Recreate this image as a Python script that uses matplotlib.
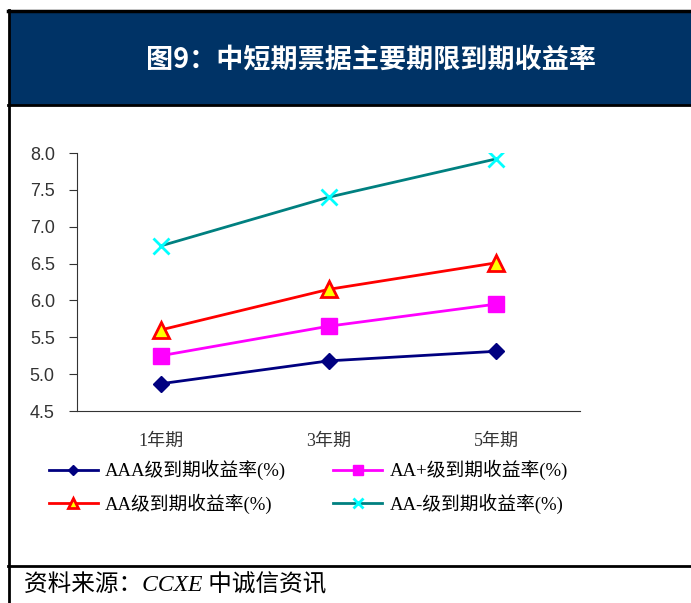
import matplotlib.pyplot as plt
from matplotlib.patches import Rectangle
from matplotlib.lines import Line2D

plt.rcParams['font.family'] = ['Liberation Serif', 'Noto Sans CJK SC', 'DejaVu Sans']

periods = ["1年期", "3年期", "5年期"]
aaa = [4.87, 5.18, 5.31]
aa_plus = [5.25, 5.65, 5.95]
aa = [5.60, 6.15, 6.51]
aa_minus = [6.74, 7.40, 7.92]

W, H = 691, 603
fig = plt.figure(figsize=(W / 100, H / 100), dpi=100)

def fx(px):
    return px / W

def fy(py):
    return 1 - py / H

# header banner and frame
fig.add_artist(Rectangle((fx(9), fy(105)), 1 - fx(9), fy(11) - fy(105),
                         transform=fig.transFigure, facecolor="#003366",
                         edgecolor="none"))
fig.add_artist(Line2D([fx(8), 1], [fy(11), fy(11)], color="black", lw=2.5,
                      transform=fig.transFigure))
fig.add_artist(Line2D([fx(8), 1], [fy(105), fy(105)], color="black", lw=2,
                      transform=fig.transFigure))
fig.add_artist(Line2D([fx(9), fx(9)], [fy(10), 0], color="black", lw=2,
                      transform=fig.transFigure))
fig.add_artist(Line2D([fx(8), 1], [fy(566), fy(566)], color="black", lw=2,
                      transform=fig.transFigure))

fig.text(fx(371), fy(60), "图9：中短期票据主要期限到期收益率", color="white",
         fontsize=19.5, fontweight="bold", ha="center", va="center",
         family=['Noto Sans CJK SC'])
fig.text(fx(24), fy(585), "资料来源：CCXE 中诚信资讯", fontsize=17,
         style="italic", ha="left", va="center",
         family=['Liberation Serif', 'Noto Sans CJK SC'])

ax = fig.add_axes([fx(77), fy(411), fx(580) - fx(77), fy(153) - fy(411)])
x = range(len(periods))
l_aaa, = ax.plot(x, aaa, color="#000080", lw=2, marker="D", ms=8,
                 markerfacecolor="#000080", markeredgecolor="#000080",
                 label="AAA级到期收益率(%)")
l_aap, = ax.plot(x, aa_plus, color="#FF00FF", lw=2, marker="s", ms=11,
                 markerfacecolor="#FF00FF", markeredgecolor="#FF00FF",
                 label="AA+级到期收益率(%)")
l_aa, = ax.plot(x, aa, color="#FF0000", lw=2, marker="^", ms=11,
                markerfacecolor="#FFFF00", markeredgecolor="#FF0000", mew=2,
                label="AA级到期收益率(%)")
l_aam, = ax.plot(x, aa_minus, color="#008080", lw=2, marker="x", ms=11,
                 markeredgecolor="#00FFFF", mew=2,
                 label="AA-级到期收益率(%)")

ax.set_xlim(-0.5, 2.5)
ax.set_ylim(4.5, 8.0)
ax.set_yticks([4.5, 5.0, 5.5, 6.0, 6.5, 7.0, 7.5, 8.0])
ax.set_yticklabels([f"{v:.1f}" for v in ax.get_yticks()], fontsize=13,
                   color="#333333", family=['Liberation Sans', 'DejaVu Sans'])
ax.set_xticks(list(x))
ax.set_xticklabels(periods, fontsize=13, color="#333333")
ax.tick_params(axis="x", length=0, pad=16)
ax.tick_params(axis="y", direction="out", length=6, pad=10, color="#333333")
for side in ("top", "right"):
    ax.spines[side].set_visible(False)
ax.spines["left"].set_color("#333333")
ax.spines["bottom"].set_color("#333333")

# row-major order: AAA, AA+ on the first row; AA, AA- on the second
ax.legend([l_aaa, l_aa, l_aap, l_aam],
          [l.get_label() for l in (l_aaa, l_aa, l_aap, l_aam)],
          loc="upper left", bbox_to_anchor=(fx(32), fy(443)),
          bbox_transform=fig.transFigure, ncol=2, frameon=False,
          fontsize=13.5, handlelength=2.6, columnspacing=2.5,
          labelspacing=0.72, handletextpad=0.4, markerscale=0.65)

fig.savefig("out.png", dpi=100)
